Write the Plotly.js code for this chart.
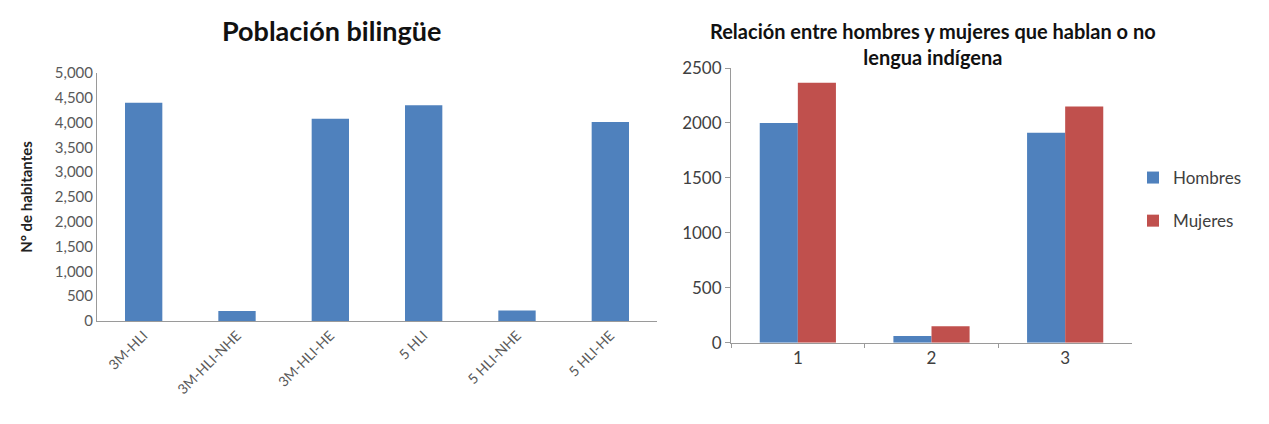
<!DOCTYPE html>
<html>
<head>
<meta charset="utf-8">
<script src="https://cdn.plot.ly/plotly-3.0.1.min.js"></script>
<style>html,body{margin:0;padding:0;background:#fff;}#chart{width:1269px;height:424px;}</style>
</head>
<body>
<div id="chart"></div>
<script>
// Left chart: Población bilingüe
const leftCategories = ["3M-HLI", "3M-HLI-NHE", "3M-HLI-HE", "5 HLI", "5 HLI-NHE", "5 HLI-HE"];
const leftValues = [4400, 200, 4080, 4350, 210, 4010];

// Right chart: Relación entre hombres y mujeres
const rightCategories = ["1", "2", "3"];
const hombres = [2000, 60, 1910];
const mujeres = [2365, 150, 2150];

const W = 1269, H = 424;
const fontFam = "Lato, 'Open Sans', sans-serif";
const blue = "#4F81BD", red = "#C0504D";

const traces = [
  {type: "bar", x: leftCategories, y: leftValues, xaxis: "x", yaxis: "y",
   marker: {color: blue}, width: 0.4, showlegend: false, hoverinfo: "x+y"},
  {type: "bar", name: "Hombres", x: rightCategories, y: hombres, xaxis: "x2", yaxis: "y2",
   marker: {color: blue}, legendgroup: "h"},
  {type: "bar", name: "Mujeres", x: rightCategories, y: mujeres, xaxis: "x2", yaxis: "y2",
   marker: {color: red}, legendgroup: "m"}
];

const layout = {
  width: W, height: H,
  margin: {l: 0, r: 0, t: 0, b: 0},
  paper_bgcolor: "#fff", plot_bgcolor: "#fff",
  font: {family: fontFam, color: "#595959"},
  barmode: "group", bargap: 0.43, bargroupgap: 0,
  showlegend: true,
  legend: {x: 1133 / W, y: (H - 160) / H, xanchor: "left", yanchor: "top",
           font: {size: 17, color: "#404040"}, tracegroupgap: 18, traceorder: "grouped",
           bgcolor: "rgba(0,0,0,0)"},
  xaxis: {domain: [97 / W, 657 / W], anchor: "y", type: "category",
          showline: true, linecolor: "#9a9a9a", linewidth: 1, ticks: "",
          tickangle: -45, tickfont: {size: 14, color: "#595959"}, showgrid: false, zeroline: false},
  yaxis: {domain: [(H - 321) / H, (H - 73) / H], anchor: "x", range: [0, 5000], dtick: 500,
          tickformat: ",d", showline: true, linecolor: "#9a9a9a", linewidth: 1, ticks: "",
          showgrid: false, zeroline: false, tickfont: {size: 15, color: "#595959"},
          title: {text: "N° de habitantes", font: {size: 15, color: "#222", family: fontFam, weight: "bold"}, standoff: 18}},
  xaxis2: {domain: [731 / W, 1132 / W], anchor: "y2", type: "category",
           showline: true, linecolor: "#9a9a9a", linewidth: 1, ticks: "outside", ticklen: 4,
           tickcolor: "#9a9a9a", tickson: "boundaries", showgrid: false, zeroline: false,
           tickfont: {size: 17, color: "#404040"}},
  yaxis2: {domain: [(H - 342.7) / H, (H - 68) / H], anchor: "x2", range: [0, 2500], dtick: 500,
           showline: true, linecolor: "#9a9a9a", linewidth: 1, ticks: "outside", ticklen: 5,
           tickcolor: "#9a9a9a", showgrid: false, zeroline: false,
           tickfont: {size: 17, color: "#404040"}},
  annotations: [
    {text: "<b>Población bilingüe</b>", xref: "paper", yref: "paper", x: 331 / W, y: (H - 30) / H,
     xanchor: "center", yanchor: "middle", showarrow: false,
     font: {size: 27, color: "#111", family: fontFam}},
    {text: "<b>Relación entre hombres y mujeres que hablan o no<br>lengua indígena</b>", xref: "paper", yref: "paper",
     x: 933 / W, y: (H - 44) / H, xanchor: "center", yanchor: "middle", showarrow: false,
     align: "center", font: {size: 20, color: "#111", family: fontFam}}
  ]
};

Plotly.newPlot("chart", traces, layout, {displayModeBar: false, staticPlot: true});
</script>
</body>
</html>
